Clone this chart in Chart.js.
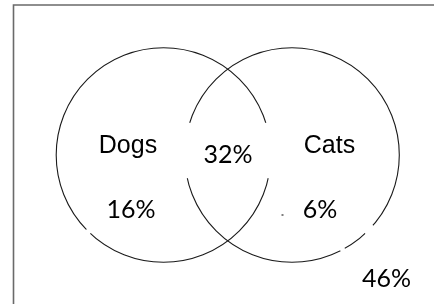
<!DOCTYPE html>
<html>
<head>
<meta charset="utf-8">
<script src="https://cdn.jsdelivr.net/npm/chart.js@4.4.1/dist/chart.umd.min.js"></script>
<style>
  html, body { margin: 0; padding: 0; background: #fff; }
  #wrap { position: relative; width: 434px; height: 304px; }
</style>
</head>
<body>
<div id="wrap"><canvas id="venn"></canvas></div>
<script>
// Venn data
const setNames = ['Dogs', 'Cats'];
const regionNames = ['Dogs only', 'Both', 'Cats only', 'Neither'];
const regionValues = [16, 32, 6, 46];

// Layout (in page pixel units, scale is 1:1)
const circleLayout = [
    { x: 163.5, y: 155, r: 107.3, gaps: [[-17.5, 12.5], [133, 136]] },
    { x: 292, y: 155, r: 107.3, gaps: [[167.5, 197.5], [41, 47], [60.5, 63.2]] }
];
const nameSpots = [{ x: 128, y: 153 }, { x: 329.5, y: 153 }];
const valueSpots = [
    { x: 131, y: 218 },   // dogs only
    { x: 228, y: 163 },   // both
    { x: 320, y: 218 },   // cats only
    { x: 386.5, y: 286.5 } // neither
];

const fmt = v => v + '%';

// frame + gaps + labels
const vennPlugin = {
    id: 'vennPlugin',
    beforeDraw(chart) {
        const ctx = chart.ctx;
        ctx.save();
        ctx.fillStyle = '#fff';
        ctx.fillRect(0, 0, chart.width, chart.height);
        ctx.strokeStyle = '#6a6a6a';
        ctx.lineWidth = 1.6;
        ctx.beginPath();
        ctx.moveTo(13.5, chart.height);
        ctx.lineTo(13.5, 5);
        ctx.lineTo(chart.width, 5);
        ctx.stroke();
        ctx.restore();
    },
    afterDatasetsDraw(chart) {
        const ctx = chart.ctx;
        const xs = chart.scales.x, ys = chart.scales.y;
        ctx.save();
        // white breaks in the outlines
        ctx.strokeStyle = '#fff';
        ctx.lineWidth = 4;
        circleLayout.forEach(c => {
            const cx = xs.getPixelForValue(c.x), cy = ys.getPixelForValue(c.y);
            const r = xs.getPixelForValue(c.x + c.r) - cx;
            c.gaps.forEach(g => {
                ctx.beginPath();
                ctx.arc(cx, cy, r, g[0] * Math.PI / 180, g[1] * Math.PI / 180);
                ctx.stroke();
            });
        });
        // set names
        ctx.fillStyle = '#000';
        ctx.textAlign = 'center';
        ctx.textBaseline = 'alphabetic';
        ctx.font = '25px "Liberation Sans", Arial, sans-serif';
        setNames.forEach((n, i) => {
            ctx.fillText(n, xs.getPixelForValue(nameSpots[i].x), ys.getPixelForValue(nameSpots[i].y));
        });
        // region values
        ctx.font = '25px Lato, "Open Sans", sans-serif';
        regionValues.forEach((v, i) => {
            ctx.fillText(fmt(v), xs.getPixelForValue(valueSpots[i].x), ys.getPixelForValue(valueSpots[i].y));
        });
        // stray tick near the cats label
        ctx.fillRect(xs.getPixelForValue(281.5), ys.getPixelForValue(214.5), 2, 1);
        ctx.restore();
    }
};

new Chart(document.getElementById('venn'), {
    type: 'bubble',
    data: {
        datasets: setNames.map((name, i) => ({
            label: name,
            data: [{ x: circleLayout[i].x, y: circleLayout[i].y, r: circleLayout[i].r }],
            backgroundColor: 'rgba(0,0,0,0)',
            borderColor: '#1a1a1a',
            borderWidth: 1.1,
            hoverRadius: 0,
            clip: false
        }))
    },
    options: {
        responsive: true,
        maintainAspectRatio: false,
        animation: false,
        events: [],
        layout: { padding: 0, autoPadding: false },
        plugins: {
            legend: { display: false },
            tooltip: { enabled: false }
        },
        scales: {
            x: { type: 'linear', min: 0, max: 434, display: false },
            y: { type: 'linear', min: 0, max: 304, reverse: true, display: false }
        }
    },
    plugins: [vennPlugin]
});
</script>
</body>
</html>
